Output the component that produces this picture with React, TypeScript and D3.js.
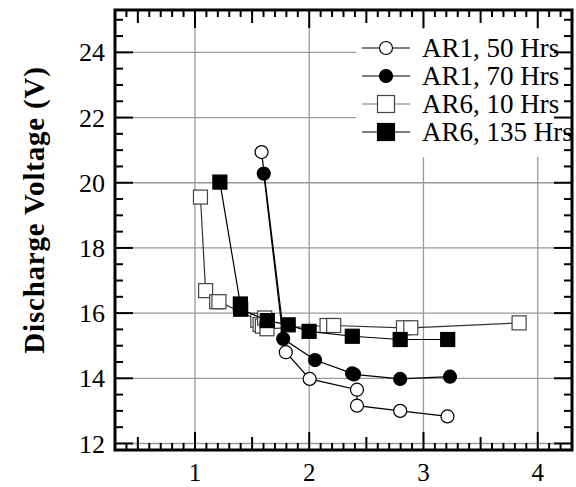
import React from "react";
import * as d3 from "d3";

// x values (unit as in reference), y = discharge voltage (V)
const ar1_50_x = [1.583, 1.795, 2.004, 2.418, 2.418, 2.796, 3.21];
const ar1_50_y = [20.94, 14.8, 13.98, 13.65, 13.16, 13.0, 12.83];

const ar1_70_x = [1.602, 1.772, 2.051, 2.375, 2.392, 2.796, 3.232];
const ar1_70_y = [20.28, 15.21, 14.56, 14.15, 14.12, 13.98, 14.05];

const ar6_10_x = [1.048, 1.093, 1.19, 1.21, 1.55, 1.57, 1.59, 1.61, 1.63, 2.156, 2.214, 2.825, 2.889, 3.837];
const ar6_10_y = [19.56, 16.69, 16.35, 16.35, 15.78, 15.65, 15.6, 15.85, 15.52, 15.62, 15.62, 15.55, 15.55, 15.7];

const ar6_135_x = [1.218, 1.397, 1.4, 1.633, 1.816, 1.999, 2.377, 2.796, 3.212];
const ar6_135_y = [20.02, 16.28, 16.12, 15.77, 15.64, 15.44, 15.29, 15.19, 15.19];

const seriesNames = ["AR1, 50 Hrs", "AR1, 70 Hrs", "AR6, 10 Hrs", "AR6, 135 Hrs"];
const xTicks = [1, 2, 3, 4];
const yTicks = [12, 14, 16, 18, 20, 22, 24];
const yTitle = "Discharge Voltage (V)";

const W = 576;
const H = 487;
const L = 115, R = 572, T = 10, B = 450;

export default function App() {
  const x = d3.scaleLinear().domain([0.3, 4.3]).range([L, R]);
  const y = d3.scaleLinear().domain([11.8, 25.3]).range([B, T]);
  const line = d3.line<[number, number]>().x((d) => x(d[0])).y((d) => y(d[1]));

  const zip = (xs: number[], ys: number[]) => xs.map((v, i) => [v, ys[i]] as [number, number]);

  const series = [
    { name: seriesNames[2], pts: zip(ar6_10_x, ar6_10_y), shape: "square", fill: "white", stroke: "#444", lineColor: "#333" },
    { name: seriesNames[3], pts: zip(ar6_135_x, ar6_135_y), shape: "square", fill: "black", stroke: "black", lineColor: "black" },
    { name: seriesNames[0], pts: zip(ar1_50_x, ar1_50_y), shape: "circle", fill: "white", stroke: "black", lineColor: "black" },
    { name: seriesNames[1], pts: zip(ar1_70_x, ar1_70_y), shape: "circle", fill: "black", stroke: "black", lineColor: "black" },
  ];

  const marker = (shape: string, cx: number, cy: number, fill: string, stroke: string, size: number, key: any) =>
    shape === "circle" ? (
      <circle key={key} cx={cx} cy={cy} r={size / 2} fill={fill} stroke={stroke} strokeWidth={1.2} />
    ) : (
      <rect key={key} x={cx - size / 2} y={cy - size / 2} width={size} height={size} fill={fill} stroke={stroke} strokeWidth={1.2} />
    );

  const xMinor = d3.range(3, 44).map((v) => v / 10);
  const yMinor = d3.range(24, 51).map((v) => v / 2);

  const xTickLen = (v: number) => {
    const r = Math.round(v * 10);
    if (r % 10 === 0) return 18;
    if (r % 5 === 0) return 13;
    return 7;
  };
  const yTickLen = (v: number) => (Math.round(v * 2) % 4 === 0 ? 18 : 8);

  const legendOrder = [seriesNames[0], seriesNames[1], seriesNames[2], seriesNames[3]];
  const legendStyle: Record<string, any> = {
    [seriesNames[0]]: { shape: "circle", fill: "white", stroke: "black", line: "black" },
    [seriesNames[1]]: { shape: "circle", fill: "black", stroke: "black", line: "black" },
    [seriesNames[2]]: { shape: "square", fill: "white", stroke: "#444", line: "#777" },
    [seriesNames[3]]: { shape: "square", fill: "black", stroke: "black", line: "black" },
  };
  const legendY0 = 48;
  const legendDy = 28;

  return (
    <svg width={W} height={H} style={{ position: "absolute", left: 0, top: 0, background: "white" }}
      fontFamily="'Liberation Serif', 'Times New Roman', serif">
      <rect x={0} y={0} width={W} height={H} fill="white" />
      {xTicks.map((t) => (
        <line key={"gx" + t} x1={x(t)} x2={x(t)} y1={T} y2={B} stroke="#9a9a9a" strokeWidth={1.3} />
      ))}
      {yTicks.map((t) => (
        <line key={"gy" + t} x1={L} x2={R} y1={y(t)} y2={y(t)} stroke="#9a9a9a" strokeWidth={1.3} />
      ))}
      <rect x={356} y={29} width={R - 356} height={128} fill="white" />

      {series.map((s, si) => (
        <g key={"s" + si}>
          <path d={line(s.pts) || ""} fill="none" stroke={s.lineColor} strokeWidth={1.2} />
          {s.pts.map((p, i) => marker(s.shape, x(p[0]), y(p[1]), s.fill, s.stroke, s.shape === "circle" ? 13 : 14, i))}
        </g>
      ))}

      {legendOrder.map((n, i) => {
        const st = legendStyle[n];
        const ly = legendY0 + i * legendDy;
        return (
          <g key={"lg" + i}>
            <line x1={362} x2={410} y1={ly} y2={ly} stroke={st.line} strokeWidth={1.2} />
            {marker(st.shape, 386, ly, st.fill, st.stroke, st.shape === "circle" ? 13 : 17, "m")}
            <text x={422} y={ly} dy="0.35em" fontSize={27} fill="black">{n}</text>
          </g>
        );
      })}

      {xMinor.map((v, i) => (
        <g key={"xt" + i}>
          <line x1={x(v)} x2={x(v)} y1={B} y2={B - xTickLen(v)} stroke="black" strokeWidth={2} />
          <line x1={x(v)} x2={x(v)} y1={T} y2={T + xTickLen(v)} stroke="black" strokeWidth={2} />
        </g>
      ))}
      {yMinor.map((v, i) => (
        <g key={"yt" + i}>
          <line x1={L} x2={L + yTickLen(v)} y1={y(v)} y2={y(v)} stroke="black" strokeWidth={2} />
          <line x1={R} x2={R - yTickLen(v)} y1={y(v)} y2={y(v)} stroke="black" strokeWidth={2} />
        </g>
      ))}
      <rect x={L} y={T} width={R - L} height={B - T} fill="none" stroke="black" strokeWidth={3} />

      {xTicks.map((t) => (
        <text key={"xl" + t} x={x(t)} y={481} textAnchor="middle" fontSize={25} fill="black">{t}</text>
      ))}
      {yTicks.map((t) => (
        <text key={"yl" + t} x={105} y={y(t)} dy="0.35em" textAnchor="end" fontSize={26} fill="black">{t}</text>
      ))}

      <text transform={`translate(44,${(65 + 355) / 2}) rotate(-90)`} textAnchor="middle" fontSize={29}
        fontWeight="bold" letterSpacing={0.8} fill="black">{yTitle}</text>
    </svg>
  );
}
